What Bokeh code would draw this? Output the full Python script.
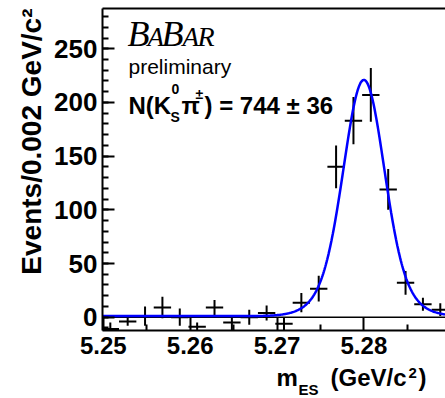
import numpy as np
from bokeh.plotting import figure
from bokeh.layouts import column
from bokeh.models import Range1d, FixedTicker, LinearAxis, Span, Label, Title
from bokeh.embed import file_html
from bokeh.resources import INLINE

# ---------------- data ----------------
bin_centers = [5.2508, 5.2528, 5.2548, 5.2568, 5.2588, 5.2608, 5.2628, 5.2648, 5.2668, 5.2688,
               5.2708, 5.2728, 5.2748, 5.2768, 5.2788, 5.2808, 5.2828, 5.2848, 5.2868, 5.2888]
events = [-11, -4, 1, 9, 0, -9, 9, -5, 0, 4,
          -6, 13.5, 26.5, 140, 183, 207, 119, 32, 12, 7]
errors = [6, 4, 9, 10, 8, 4, 7, 7, 7, 7,
          6, 9, 12, 20, 22, 25, 19, 11, 6, 6]
bin_half_width = 0.001

# fit model parameters (double Gaussian signal + flat background)
fit_mean = 5.2800
fit_peak = 220.0
fit_core_frac = 0.75
fit_sigma_core = 0.0022
fit_sigma_wide = 0.0035
fit_background = 1.0

x_tick_values = [5.25, 5.26, 5.27, 5.28]
x_minor_values = [5.255, 5.265, 5.275, 5.285]
y_tick_values = [0, 50, 100, 150, 200, 250]
y_minor_values = list(range(-10, 290, 10))

X_START, X_END = 5.2499, 5.2894
Y_START, Y_END = -12.4, 287.5

W, H = 445, 398
TITLE_H = 35                 # strip below the plot holding the x-axis title
MAIN_H = H - TITLE_H
LEFT, TOP, BOTTOM = 102, 8, 33
FW, FH = W - LEFT, MAIN_H - TOP - BOTTOM

FONT = "Liberation Sans"

p = figure(width=W, height=MAIN_H, x_range=Range1d(X_START, X_END), y_range=Range1d(Y_START, Y_END),
           output_backend="svg", toolbar_location=None,
           min_border_left=LEFT, min_border_right=0, min_border_top=TOP, min_border_bottom=BOTTOM)
p.outline_line_color = None
p.xgrid.visible = False
p.ygrid.visible = False
p.background_fill_color = "white"
p.border_fill_color = "white"

# axes
xa = p.xaxis[0]
xa.ticker = FixedTicker(ticks=x_tick_values, minor_ticks=x_minor_values)
ya = p.yaxis[0]
ya.ticker = FixedTicker(ticks=y_tick_values, minor_ticks=y_minor_values)
for ax in (xa, ya):
    ax.axis_line_width = 2
    ax.axis_line_color = "black"
    ax.major_tick_line_width = 2
    ax.minor_tick_line_width = 2
    ax.major_tick_line_color = "black"
    ax.minor_tick_line_color = "black"
    ax.major_tick_out = 0
    ax.minor_tick_out = 0
    ax.major_label_text_font = FONT
    ax.major_label_text_font_style = "bold"
    ax.major_label_text_color = "black"
xa.major_label_text_font_size = "24px"
ya.major_label_text_font_size = "26px"
xa.major_tick_in = 13
xa.minor_tick_in = 6
xa.major_label_standoff = 6
ya.major_tick_in = 12
ya.minor_tick_in = 6
ya.major_label_standoff = 5

top_axis = LinearAxis(ticker=FixedTicker(ticks=[]), axis_line_width=2, axis_line_color="black",
                      major_tick_in=0, major_tick_out=0, minor_tick_in=0, minor_tick_out=0,
                      major_label_text_font_size="0px", major_label_standoff=0)
p.add_layout(top_axis, "above")

p.add_layout(Title(text="Events/0.002 GeV/c\u00b2", align="right", text_font=FONT,
                   text_font_style="bold", text_font_size="28px", text_color="black"), "left")

# zero line
zero = Span(location=0, dimension="width", line_color="black", line_width=1.5, level="underlay")
p.add_layout(zero)

# data points with error bars
xc = np.array(bin_centers)
yv = np.array(events, dtype=float)
ev = np.array(errors, dtype=float)
p.segment(x0=xc, y0=yv - ev, x1=xc, y1=yv + ev, line_color="black", line_width=2)
p.segment(x0=xc - bin_half_width, y0=yv, x1=xc + bin_half_width, y1=yv, line_color="black", line_width=2)

# fit curve
xs = np.linspace(X_START, X_END, 500)
ys = fit_background + fit_peak * (
    fit_core_frac * np.exp(-0.5 * ((xs - fit_mean) / fit_sigma_core) ** 2)
    + (1 - fit_core_frac) * np.exp(-0.5 * ((xs - fit_mean) / fit_sigma_wide) ** 2))
p.line(xs, ys, line_color="#0000ff", line_width=2.5)


def at(px, py):
    return (X_START + (px - LEFT) * (X_END - X_START) / FW,
            Y_START + (TOP + FH - py) * (Y_END - Y_START) / FH)


def lab(fig, conv, px, baseline, text, size, font=FONT, style="bold"):
    # labels are anchored at their vertical middle, about a third of an em above the baseline
    x, y = conv(px, baseline - 0.33 * size)
    fig.add_layout(Label(x=x, y=y, text=text, text_font=font, text_font_style=style,
                         text_font_size=f"{size}px", text_color="black",
                         text_align="left", text_baseline="middle"))


# BaBar logo and caption inside the frame
SERIF = "Liberation Serif"
lab(p, at, 127, 45, "B", 36, SERIF, "italic")
lab(p, at, 147, 45, "A", 27, SERIF, "italic")
lab(p, at, 161, 45, "B", 36, SERIF, "italic")
lab(p, at, 182, 45, "A", 27, SERIF, "italic")
lab(p, at, 197, 45, "R", 28, SERIF, "italic")
lab(p, at, 128, 73, "preliminary", 21, FONT, "normal")
lab(p, at, 128, 113, "N(K", 24)
lab(p, at, 171, 93, "0", 14)
lab(p, at, 170, 121, "S", 14)
lab(p, at, 181, 113, "\u03c0", 24)
lab(p, at, 195, 98, "\u00b1", 14)
lab(p, at, 204, 113, ") = 744 \u00b1 36", 24)

# x-axis title strip; its frame is aligned with the main frame (x from LEFT to W, in picture pixels)
t = figure(width=W, height=TITLE_H, x_range=Range1d(LEFT, W), y_range=Range1d(0, TITLE_H),
           output_backend="svg", toolbar_location=None, x_axis_type=None, y_axis_type=None,
           min_border_left=LEFT, min_border_right=0, min_border_top=0, min_border_bottom=0)
t.outline_line_color = None
t.xgrid.visible = False
t.ygrid.visible = False
t.background_fill_color = "white"
t.border_fill_color = "white"


def tpos(px, py):
    return (px, H - py)


lab(t, tpos, 276, 385, "m", 24)
lab(t, tpos, 298, 394, "ES", 15)
lab(t, tpos, 330, 385, "(GeV/c", 24)
lab(t, tpos, 408, 377, "2", 15)
lab(t, tpos, 418, 385, ")", 24)

layout = column(p, t, spacing=0)
open("out.html", "w").write(file_html(layout, INLINE))
